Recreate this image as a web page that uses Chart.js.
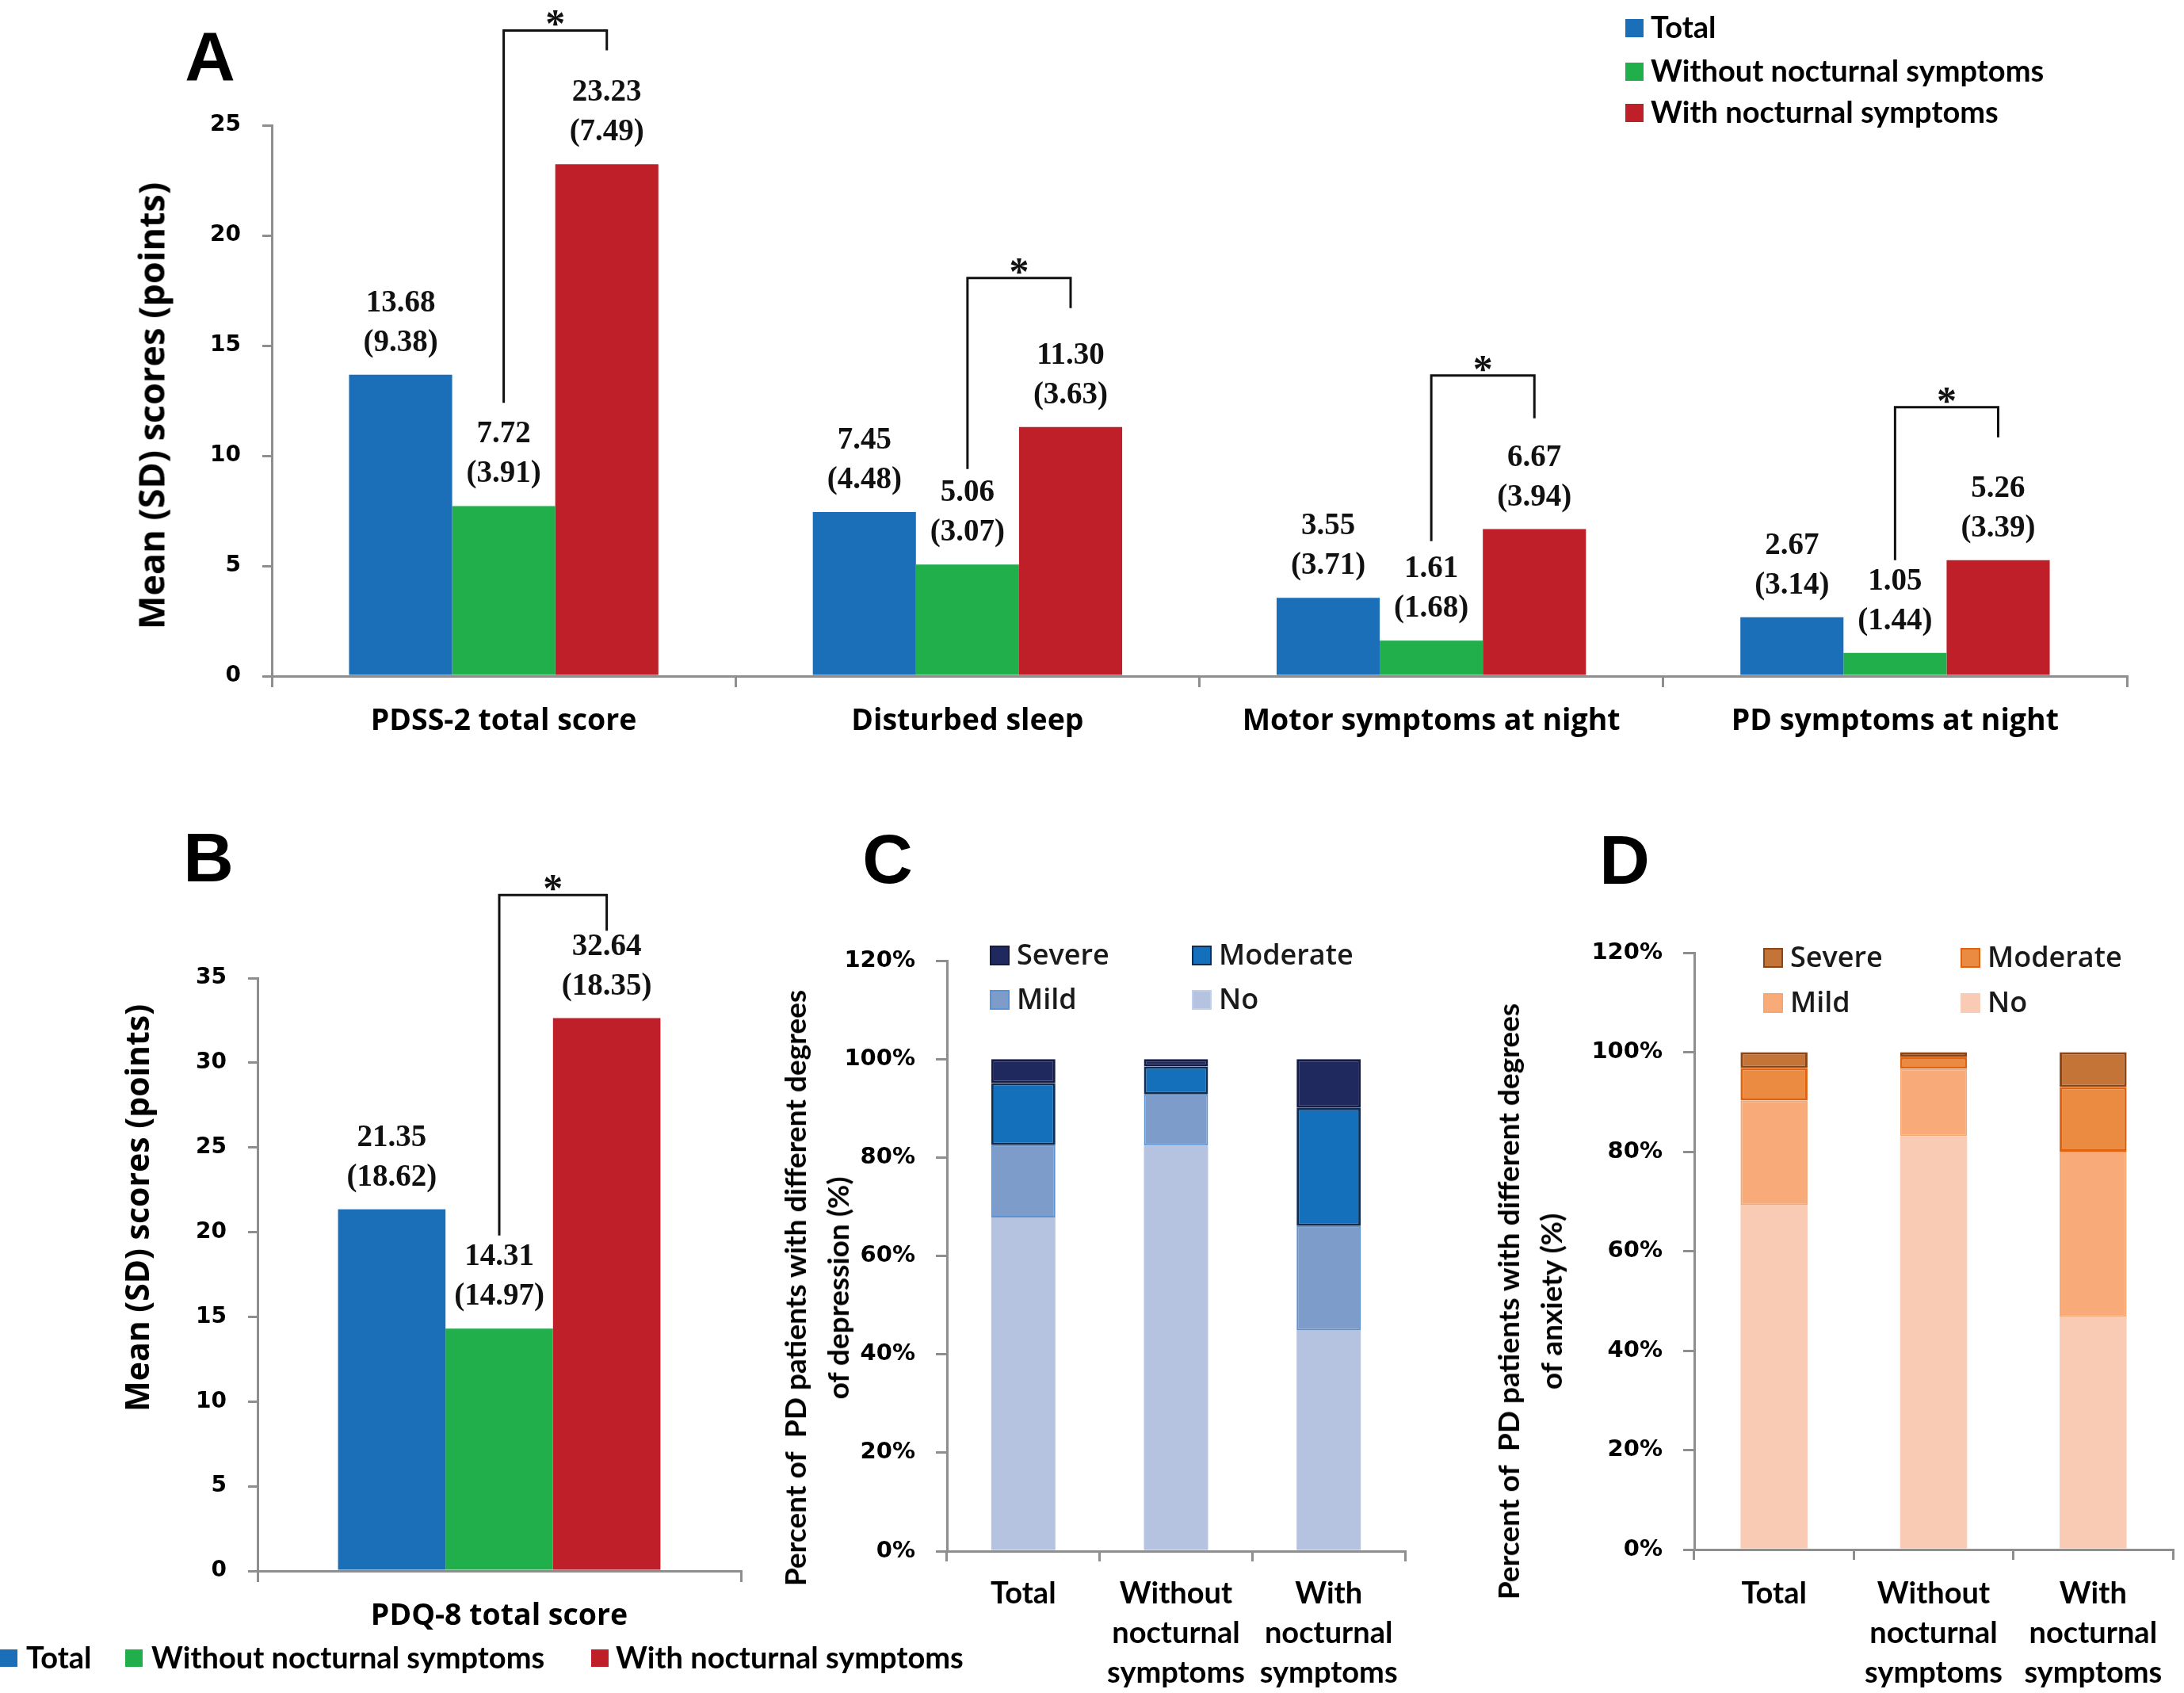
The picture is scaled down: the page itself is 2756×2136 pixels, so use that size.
<!DOCTYPE html>
<html><head><meta charset="utf-8">
<script src="https://cdn.jsdelivr.net/npm/chart.js@4.4.0/dist/chart.umd.min.js"></script>
<style>
html,body{margin:0;padding:0;background:#fff;}
#stage{position:relative;width:2756px;height:2136px;overflow:hidden;background:#fff;}
canvas{position:absolute;}
.t{position:absolute;white-space:pre;line-height:1;color:#000;z-index:5;}
.sw{position:absolute;box-sizing:border-box;z-index:5;}
</style></head>
<body><div id="stage">
<canvas id="cA" width="2756" height="1000" style="left:0;top:0;width:2756px;height:1000px"></canvas>
<canvas id="cB" width="1000" height="1136" style="left:0;top:1000px;width:1000px;height:1136px"></canvas>
<canvas id="cC" width="840" height="1036" style="left:960px;top:1100px;width:840px;height:1036px"></canvas>
<canvas id="cD" width="896" height="1036" style="left:1860px;top:1100px;width:896px;height:1036px"></canvas>
</div>
<script>
// ---------------- data ----------------
const seriesNames = ['Total', 'Without nocturnal symptoms', 'With nocturnal symptoms'];
const catsA = ['PDSS-2 total score', 'Disturbed sleep', 'Motor symptoms at night', 'PD symptoms at night'];
const totalA = [13.68, 7.45, 3.55, 2.67];
const withoutA = [7.72, 5.06, 1.61, 1.05];
const withA = [23.23, 11.30, 6.67, 5.26];
const totalSdA = [9.38, 4.48, 3.71, 3.14];
const withoutSdA = [3.91, 3.07, 1.68, 1.44];
const withSdA = [7.49, 3.63, 3.94, 3.39];

const catsB = ['PDQ-8 total score'];
const totalB = [21.35];
const withoutB = [14.31];
const withB = [32.64];
const totalSdB = [18.62];
const withoutSdB = [14.97];
const withSdB = [18.35];

const groupsCD = [['Total'], ['Without', 'nocturnal', 'symptoms'], ['With', 'nocturnal', 'symptoms']];
const levelNames = ['Severe', 'Moderate', 'Mild', 'No'];
const depNo = [67.8, 82.4, 44.8];
const depMild = [14.7, 10.4, 21.3];
const depModerate = [12.6, 5.7, 24.0];
const depSevere = [4.9, 1.5, 9.9];
const anxNo = [69.2, 83.1, 46.8];
const anxMild = [21.1, 13.6, 33.2];
const anxModerate = [6.5, 2.3, 13.0];
const anxSevere = [3.2, 1.0, 7.0];

// ---------------- styles ----------------
const BLUE = '#1A6FB8', GREEN = '#21AF4B', RED = '#BE1F29';
const GRAY = '#8e8e8e';
const depFill = {Severe:'#1F295E', Moderate:'#1470BA', Mild:'#7E9CCA', No:'#B5C3E0'};
const depBorder = {Severe:'#141c45', Moderate:'#0f2c55', Mild:'#5a92d6', No:'#c3d0ea'};
const anxFill = {Severe:'#C37436', Moderate:'#EB8B41', Mild:'#F8AA78', No:'#F9CBB4'};
const anxBorder = {Severe:'#8e4516', Moderate:'#e2630f', Mild:'#f7a672', No:'#f8cdb8'};

const tickFontNum = {family:'"DejaVu Sans", Verdana, sans-serif', weight:'bold', size:28};
const catFont = {family:'"Open Sans", sans-serif', weight:'bold', size:37.5};

const meanLabels = {
  id:'meanLabels',
  afterDatasetsDraw(chart, args, opts){
    const ctx = chart.ctx; ctx.save();
    ctx.font = 'bold 39px "Liberation Serif", "Times New Roman", serif';
    ctx.fillStyle = '#111'; ctx.textAlign = 'center'; ctx.textBaseline = 'middle';
    chart.data.datasets.forEach((ds, i) => {
      chart.getDatasetMeta(i).data.forEach((bar, j) => {
        ctx.fillText(ds.data[j].toFixed(2), bar.x, bar.y - 90);
        ctx.fillText('(' + opts.sd[i][j].toFixed(2) + ')', bar.x, bar.y - 40);
      });
    });
    ctx.restore();
  }
};
const sigBrackets = {
  id:'sigBrackets',
  afterDatasetsDraw(chart, args, opts){
    const y = chart.scales.y, ctx = chart.ctx;
    const mL = chart.getDatasetMeta(1), mR = chart.getDatasetMeta(2);
    ctx.save(); ctx.strokeStyle = '#111'; ctx.lineWidth = 3; ctx.fillStyle = '#111';
    opts.marks.forEach(m => {
      const xL = mL.data[m.cat].x, xR = mR.data[m.cat].x;
      const yT = y.getPixelForValue(m.top), yL = y.getPixelForValue(m.from), yR = y.getPixelForValue(m.to);
      ctx.beginPath(); ctx.moveTo(xL, yL); ctx.lineTo(xL, yT); ctx.lineTo(xR, yT); ctx.lineTo(xR, yR); ctx.stroke();
      ctx.font = 'bold 50px "Liberation Serif", serif'; ctx.textAlign = 'center'; ctx.textBaseline = 'alphabetic';
      ctx.fillText('*', (xL + xR) / 2, yT + 8);
    });
    ctx.restore();
  }
};

function groupedChart(id, cats, vals, sds, ymax, area, canvasW, canvasH, marks){
  return new Chart(document.getElementById(id), {
    type:'bar',
    data:{labels:cats, datasets:[
      {label:seriesNames[0], data:vals[0], backgroundColor:BLUE},
      {label:seriesNames[1], data:vals[1], backgroundColor:GREEN},
      {label:seriesNames[2], data:vals[2], backgroundColor:RED}
    ]},
    options:{
      responsive:false, animation:false, devicePixelRatio:1,
      layout:{padding:{top:area.top, right:canvasW - area.right, left:0, bottom:0}},
      datasets:{bar:{categoryPercentage:0.667, barPercentage:1.0}},
      plugins:{legend:{display:false}, tooltip:{enabled:false},
        meanLabels:{sd:sds}, sigBrackets:{marks:marks}},
      scales:{
        x:{grid:{display:true, drawOnChartArea:false, drawTicks:true, tickLength:14, color:GRAY, lineWidth:3, offset:true},
           border:{display:true, color:GRAY, width:3},
           ticks:{font:catFont, color:'#000', padding:21, maxRotation:0, autoSkip:false},
           afterFit(s){ s.height = canvasH - area.bottom; }},
        y:{min:0, max:ymax,
           grid:{display:true, drawOnChartArea:false, drawTicks:true, tickLength:12, color:GRAY, lineWidth:3},
           border:{display:true, color:GRAY, width:3},
           ticks:{stepSize:5, font:tickFontNum, color:'#000', padding:27},
           afterFit(s){ s.width = area.left; }}
      }
    },
    plugins:[meanLabels, sigBrackets]
  });
}

groupedChart('cA', catsA, [totalA, withoutA, withA], [totalSdA, withoutSdA, withSdA], 25,
  {left:343, right:2684, top:158, bottom:853}, 2756, 1000,
  [{cat:0, top:29.3, from:12.4, to:28.4}, {cat:1, top:18.07, from:9.4, to:16.7},
   {cat:2, top:13.64, from:6.12, to:11.7}, {cat:3, top:12.2, from:5.26, to:10.84}]);

groupedChart('cB', catsB, [totalB, withoutB, withB], [totalSdB, withoutSdB, withSdB], 35,
  {left:325, right:935, top:234, bottom:982}, 1000, 1136,
  [{cat:0, top:39.9, from:19.8, to:37.8}]);

function stackedChart(id, data, fills, borders, area, canvasW, canvasH, labelPad){
  const order = ['No', 'Mild', 'Moderate', 'Severe'];
  const bw = {No:0, Mild:2, Moderate:3, Severe:3};
  return new Chart(document.getElementById(id), {
    type:'bar',
    data:{labels:groupsCD, datasets:order.map(k => ({label:k, data:data[k], backgroundColor:fills[k], borderColor:borders[k], borderWidth:bw[k], borderSkipped:false}))},
    options:{
      responsive:false, animation:false, devicePixelRatio:1,
      layout:{padding:{top:area.top, right:canvasW - area.right, left:0, bottom:0}},
      datasets:{bar:{categoryPercentage:0.42, barPercentage:1.0}},
      plugins:{legend:{display:false}, tooltip:{enabled:false}},
      scales:{
        x:{stacked:true,
           grid:{display:true, drawOnChartArea:false, drawTicks:true, tickLength:13, color:GRAY, lineWidth:3, offset:true},
           border:{display:true, color:GRAY, width:3},
           ticks:{font:{family:'Lato, sans-serif', weight:'bold', size:38, lineHeight:50/38}, color:'#000', padding:labelPad, maxRotation:0, autoSkip:false},
           afterFit(s){ s.height = canvasH - area.bottom; }},
        y:{stacked:true, min:0, max:120,
           grid:{display:true, drawOnChartArea:false, drawTicks:true, tickLength:14, color:GRAY, lineWidth:3},
           border:{display:true, color:GRAY, width:3},
           ticks:{stepSize:20, font:{family:'"DejaVu Sans", Verdana, sans-serif', weight:'bold', size:29}, color:'#000', padding:26, callback:v => v + '%'},
           afterFit(s){ s.width = area.left; }}
      }
    }
  });
}

stackedChart('cC', {No:depNo, Mild:depMild, Moderate:depModerate, Severe:depSevere}, depFill, depBorder,
  {left:235, right:813, top:112, bottom:857}, 840, 1036, 16);
stackedChart('cD', {No:anxNo, Mild:anxMild, Moderate:anxModerate, Severe:anxSevere}, anxFill, anxBorder,
  {left:278, right:882, top:102, bottom:855}, 896, 1036, 18);

// ---------------- text overlays ----------------
const stage = document.getElementById('stage');
function put(txt, x, y, css, anchor){
  const d = document.createElement('div'); d.className = 't'; d.textContent = txt;
  Object.assign(d.style, css);
  d.style.left = x + 'px'; d.style.top = y + 'px';
  d.style.transform = anchor === 'l' ? 'translate(0,-50%)' :
                      anchor === 'rot' ? 'translate(-50%,-50%) rotate(-90deg)' : 'translate(-50%,-50%)';
  stage.appendChild(d); return d;
}
function swatch(x, y, w, h, fill, border){
  const d = document.createElement('div'); d.className = 'sw';
  d.style.left = x + 'px'; d.style.top = y + 'px'; d.style.width = w + 'px'; d.style.height = h + 'px';
  d.style.background = fill; if (border) d.style.border = '2px solid ' + border;
  stage.appendChild(d);
}
const letterCss = {font:'bold 88px "Liberation Sans", Arial, sans-serif'};
put('A', 265, 71, letterCss); put('B', 263, 1082, letterCss);
put('C', 1120, 1084, letterCss); put('D', 2050, 1085, letterCss);

put('Mean (SD) scores (points)', 190, 512, {font:'bold 45px "Open Sans", sans-serif'}, 'rot');
put('Mean (SD) scores (points)', 172, 1524, {font:'bold 41px "Open Sans", sans-serif'}, 'rot');
const ttlCss = {font:'bold 37px Lato, sans-serif', lineHeight:'54px', textAlign:'center'};
put('Percent of  PD patients with different degrees\nof depression (%)', 1030, 1625, ttlCss, 'rot');
put('Percent of  PD patients with different degrees\nof anxiety (%)', 1930, 1642, ttlCss, 'rot');

// legend A (vertical, top right)
const legCss = {font:'bold 38px Lato, sans-serif'};
const serColors = [BLUE, GREEN, RED];
const rowsA = [35, 90, 142];
seriesNames.forEach((n, i) => { swatch(2051, rowsA[i] - 11, 23, 23, serColors[i]); put(n, 2083, rowsA[i] - 2, legCss, 'l'); });
// legend B (horizontal, bottom)
const xsB = [[0, 33], [158, 191], [746, 777]];
seriesNames.forEach((n, i) => { swatch(xsB[i][0], 2081, 22, 22, serColors[i]); put(n, xsB[i][1], 2090, legCss, 'l'); });
// legends C & D
const legCD = {font:'600 36px "Open Sans", sans-serif', color:'#1a1a1a'};
function legendCD(x1, x2, y1, y2, fills, borders){
  const pos = {Severe:[x1, y1], Moderate:[x2, y1], Mild:[x1, y2], No:[x2, y2]};
  levelNames.forEach(k => {
    const [x, y] = pos[k];
    swatch(x, y - 12, 25, 25, fills[k], borders[k]);
    put(k, x + 34, y - 2, legCD, 'l');
  });
}
legendCD(1249, 1504, 1205, 1261, depFill, depBorder);
legendCD(2225, 2474, 1208, 1265, anxFill, anxBorder);
</script>
</body></html>
